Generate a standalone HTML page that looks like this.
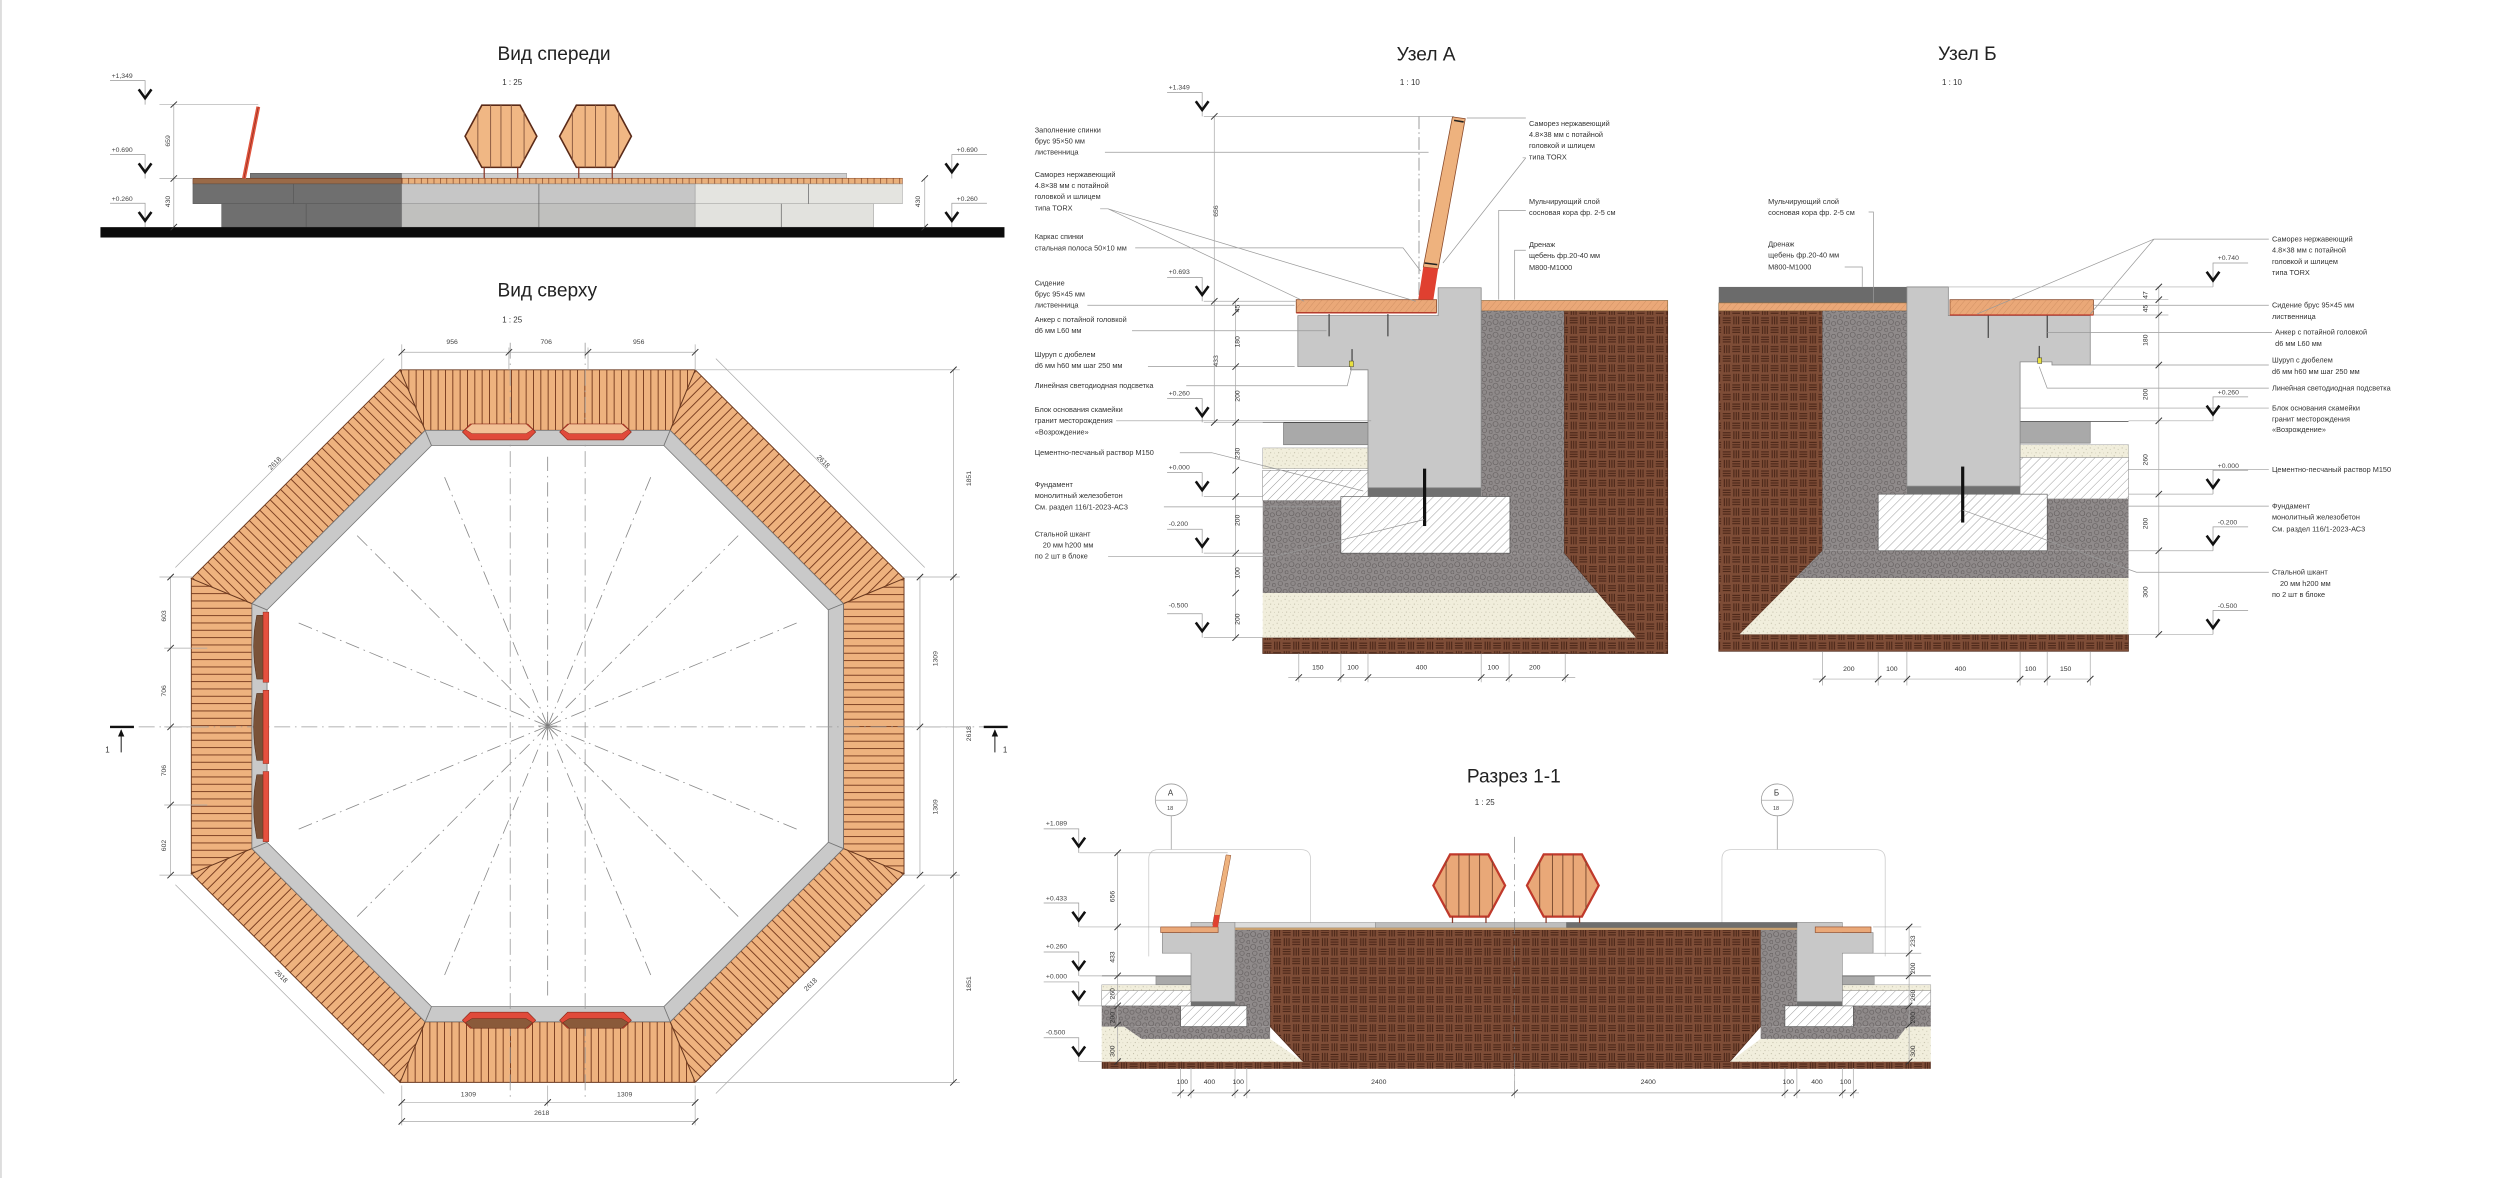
<!DOCTYPE html>
<html><head><meta charset="utf-8"><style>
html,body{margin:0;padding:0;background:#fff;}
svg{display:block;}
text{font-family:"Liberation Sans","DejaVu Sans",sans-serif;fill:#333;}
.t{font-size:12px;fill:#222;}
.s{font-size:5px;fill:#333;}
.l{font-size:4.6px;fill:#333;}
.d{font-size:4.3px;fill:#444;}
.ld{stroke:#999;stroke-width:0.45;fill:none;}
.dm{stroke:#aaa;stroke-width:0.45;fill:none;}
.tk{stroke:#333;stroke-width:0.6;}
</style></head><body>
<svg xmlns="http://www.w3.org/2000/svg" width="2500" height="1178" viewBox="0 0 1568 739" preserveAspectRatio="none">
<defs>
<pattern id="soil" width="12" height="12" patternUnits="userSpaceOnUse">
<rect width="12" height="12" fill="#7e4d37"/>
<g stroke="#4a2618" stroke-width="0.7">
<line x1="1.5" y1="0.5" x2="1.5" y2="5.5"/><line x1="3" y1="0.5" x2="3" y2="5.5"/><line x1="4.5" y1="0.5" x2="4.5" y2="5.5"/>
<line x1="6.5" y1="1.5" x2="11.5" y2="1.5"/><line x1="6.5" y1="3" x2="11.5" y2="3"/><line x1="6.5" y1="4.5" x2="11.5" y2="4.5"/>
<line x1="0.5" y1="7.5" x2="5.5" y2="7.5"/><line x1="0.5" y1="9" x2="5.5" y2="9"/><line x1="0.5" y1="10.5" x2="5.5" y2="10.5"/>
<line x1="7.5" y1="6.5" x2="7.5" y2="11.5"/><line x1="9" y1="6.5" x2="9" y2="11.5"/><line x1="10.5" y1="6.5" x2="10.5" y2="11.5"/>
</g></pattern>
<pattern id="grav" width="8" height="8" patternUnits="userSpaceOnUse">
<rect width="8" height="8" fill="#8f8a8a"/>
<g fill="none" stroke="#5c5757" stroke-width="0.35">
<circle cx="2" cy="2" r="1.6"/><circle cx="6" cy="3" r="1.3"/><circle cx="3" cy="6" r="1.4"/><circle cx="7" cy="7" r="1"/></g></pattern>
<pattern id="sand" width="5" height="5" patternUnits="userSpaceOnUse">
<rect width="5" height="5" fill="#f1eedc"/>
<g fill="#a8a48c"><circle cx="1" cy="1" r="0.3"/><circle cx="3.5" cy="2" r="0.25"/><circle cx="2" cy="4" r="0.3"/><circle cx="4.3" cy="4.2" r="0.2"/></g></pattern>
<pattern id="hatch" width="4" height="4" patternUnits="userSpaceOnUse" patternTransform="rotate(45)">
<rect width="4" height="4" fill="#fff"/><line x1="0" y1="0" x2="0" y2="4" stroke="#666" stroke-width="0.4"/></pattern>
<pattern id="plank" width="4.6" height="10" patternUnits="userSpaceOnUse">
<rect width="4.6" height="10" fill="#eeb27e"/><line x1="0.3" y1="0" x2="0.3" y2="10" stroke="#7a3d20" stroke-width="0.6"/></pattern>
<pattern id="wh" width="3" height="3" patternUnits="userSpaceOnUse" patternTransform="rotate(40)">
<rect width="3" height="3" fill="#eaa878"/><line x1="0" y1="0" x2="0" y2="3" stroke="#b97a50" stroke-width="0.3"/></pattern>
<pattern id="ftick" width="4" height="4" patternUnits="userSpaceOnUse">
<rect width="4" height="4" fill="#e9b07c"/><line x1="0.2" y1="0" x2="0.2" y2="4" stroke="#7a3d20" stroke-width="0.4"/></pattern>
<g id="lv"><path d="M-22,-15 H0 V0" fill="none" stroke="#999" stroke-width="0.45"/><path d="M-4,-9.5 L0,-4 L4,-9.5" fill="none" stroke="#111" stroke-width="1.6"/></g>
<g id="lvr"><path d="M22,-15 H0 V0" fill="none" stroke="#999" stroke-width="0.45"/><path d="M-4,-9.5 L0,-4 L4,-9.5" fill="none" stroke="#111" stroke-width="1.6"/></g>
<g id="hexp"><polygon points="10.5,0 34.5,0 45,19.5 34.5,39 10.5,39 0,19.5" fill="#f0b784" stroke="#5a2a18" stroke-width="1"/><g stroke="#8a5a40" stroke-width="0.6"><line x1="8" y1="4" x2="8" y2="35"/><line x1="16" y1="0" x2="16" y2="39"/><line x1="22.5" y1="0" x2="22.5" y2="39"/><line x1="29" y1="0" x2="29" y2="39"/><line x1="37" y1="4" x2="37" y2="35"/></g><line x1="12" y1="39" x2="12" y2="46" stroke="#8a3a2a" stroke-width="0.8"/><line x1="33" y1="39" x2="33" y2="46" stroke="#8a3a2a" stroke-width="0.8"/></g>
<g id="hexr"><polygon points="10.5,0 34.5,0 45,19.5 34.5,39 10.5,39 0,19.5" fill="#e9a878" stroke="#c0392b" stroke-width="1.4"/><g stroke="#7a4a30" stroke-width="0.6"><line x1="8" y1="4" x2="8" y2="35"/><line x1="16" y1="0" x2="16" y2="39"/><line x1="22.5" y1="0" x2="22.5" y2="39"/><line x1="29" y1="0" x2="29" y2="39"/><line x1="37" y1="4" x2="37" y2="35"/></g><line x1="12" y1="39" x2="12" y2="43" stroke="#8a3a2a" stroke-width="0.8"/><line x1="33" y1="39" x2="33" y2="43" stroke="#8a3a2a" stroke-width="0.8"/></g>
<g id="seg">
<polygon points="-92.6,-223.5 92.6,-223.5 76.8,-185.5 -76.8,-185.5" fill="url(#plank)" stroke="#6b3a20" stroke-width="0.6"/>
<polygon points="-76.8,-185.5 76.8,-185.5 72.9,-176 -72.9,-176" fill="#c9c9c9" stroke="#777" stroke-width="0.5"/>
</g>
</defs>
<rect width="1568" height="739" fill="#fff"/>
<line x1="0.6" y1="0" x2="0.6" y2="739" stroke="#ddd" stroke-width="1.2"/>

<!-- ============ FRONT VIEW ============ -->
<text class="t" x="312" y="37.6">Вид спереди</text>
<text class="s" x="315" y="53.3">1 : 25</text>
<rect x="157" y="108.7" width="95" height="3.3" fill="#777" stroke="#555" stroke-width="0.3"/>
<rect x="252" y="108.7" width="279" height="3.3" fill="#cfcfcf" stroke="#888" stroke-width="0.3"/>
<rect x="121" y="111.8" width="131" height="3.6" fill="#9a6a48" stroke="#5a2a18" stroke-width="0.3"/>
<rect x="252" y="111.8" width="314" height="3.6" fill="url(#ftick)" stroke="#7a3d20" stroke-width="0.3"/>
<rect x="121" y="115.4" width="131" height="12.4" fill="#6f6f6f" stroke="#555" stroke-width="0.3"/>
<rect x="252" y="115.4" width="184" height="12.4" fill="#c6c6c6" stroke="#888" stroke-width="0.3"/>
<rect x="436" y="115.4" width="130" height="12.4" fill="#e4e4e0" stroke="#999" stroke-width="0.3"/>
<rect x="139" y="127.8" width="113" height="14.7" fill="#6f6f6f" stroke="#555" stroke-width="0.3"/>
<rect x="252" y="127.8" width="184" height="14.7" fill="#c0c0be" stroke="#888" stroke-width="0.3"/>
<rect x="436" y="127.8" width="112" height="14.7" fill="#e2e2de" stroke="#999" stroke-width="0.3"/>
<g stroke="#555" stroke-width="0.4"><line x1="184" y1="115.4" x2="184" y2="127.8"/><line x1="338" y1="115.4" x2="338" y2="142.5"/><line x1="507" y1="115.4" x2="507" y2="127.8"/><line x1="192" y1="127.8" x2="192" y2="142.5"/><line x1="490" y1="127.8" x2="490" y2="142.5"/></g>
<rect x="63" y="142.5" width="567" height="6.5" fill="#0b0b0b"/>
<line x1="162" y1="67" x2="153" y2="112" stroke="#e0553f" stroke-width="2.4"/>
<line x1="162" y1="67" x2="153" y2="112" stroke="#8a2a1a" stroke-width="0.4"/>
<use href="#hexp" x="291.7" y="66"/>
<use href="#hexp" x="351" y="66"/>
<use href="#lv" x="91" y="65.6"/><text class="d" x="70" y="49">+1,349</text>
<use href="#lv" x="91" y="112"/><text class="d" x="70" y="95.5">+0.690</text>
<use href="#lv" x="91" y="142.5"/><text class="d" x="70" y="126">+0.260</text>
<use href="#lvr" x="597" y="112"/><text class="d" x="600" y="95.5">+0.690</text>
<use href="#lvr" x="597" y="142.5"/><text class="d" x="600" y="126">+0.260</text>
<path class="dm" d="M109,65.6 V142.5 M100,65.6 H162 M100,112 H121"/>
<g class="tk"><line x1="107" y1="67.5" x2="111" y2="63.7"/><line x1="107" y1="114" x2="111" y2="110"/><line x1="107" y1="144.5" x2="111" y2="140.5"/></g>
<text class="d" transform="translate(106.5,92) rotate(-90)">659</text>
<text class="d" transform="translate(106.5,130) rotate(-90)">430</text>
<path class="dm" d="M580,112 V142.5"/>
<g class="tk"><line x1="578" y1="114" x2="582" y2="110"/><line x1="578" y1="144.5" x2="582" y2="140.5"/></g>
<text class="d" transform="translate(577,130) rotate(-90)">430</text>

<!-- ============ TOP VIEW ============ -->
<text class="t" x="312" y="186">Вид сверху</text>
<text class="s" x="315" y="202.4">1 : 25</text>
<g transform="translate(343.5,455.5)">
<use href="#seg"/>
<use href="#seg" transform="rotate(45)"/>
<use href="#seg" transform="rotate(90)"/>
<use href="#seg" transform="rotate(135)"/>
<use href="#seg" transform="rotate(180)"/>
<use href="#seg" transform="rotate(225)"/>
<use href="#seg" transform="rotate(270)"/>
<use href="#seg" transform="rotate(315)"/>
<g stroke="#888" stroke-width="0.5" stroke-dasharray="9 3 1 3">
<line x1="0" y1="0" x2="0" y2="-170"/><line x1="0" y1="0" x2="0" y2="170"/>
<line x1="0" y1="0" x2="65" y2="-157"/><line x1="0" y1="0" x2="-65" y2="-157"/>
<line x1="0" y1="0" x2="65" y2="157"/><line x1="0" y1="0" x2="-65" y2="157"/>
<line x1="0" y1="0" x2="157" y2="-65"/><line x1="0" y1="0" x2="-157" y2="-65"/>
<line x1="0" y1="0" x2="157" y2="65"/><line x1="0" y1="0" x2="-157" y2="65"/>
<line x1="0" y1="0" x2="120" y2="-120"/><line x1="0" y1="0" x2="-120" y2="-120"/>
<line x1="0" y1="0" x2="120" y2="120"/><line x1="0" y1="0" x2="-120" y2="120"/>
</g>
<g stroke="#777" stroke-width="0.4"><line x1="-6" y1="0" x2="6" y2="0"/><line x1="0" y1="-6" x2="0" y2="6"/><line x1="-4" y1="-4" x2="4" y2="4"/><line x1="-4" y1="4" x2="4" y2="-4"/></g>
</g>
<g stroke="#999" stroke-width="0.5" stroke-dasharray="10 3 1 3">
<line x1="320" y1="215" x2="320" y2="690"/><line x1="367" y1="215" x2="367" y2="690"/>
<line x1="70" y1="456" x2="620" y2="456"/>
</g>
<g>
<polygon points="295,266 331,266 336,271 331,276 295,276 290,271" fill="#e04a3a" stroke="#8a2a1a" stroke-width="0.4"/>
<polygon points="296,266 330,266 334,269.5 330,272 296,272 292,269.5" fill="#f2c196" stroke="#8a2a1a" stroke-width="0.3"/>
<polygon points="356,266 391,266 396,271 391,276 356,276 351,271" fill="#e04a3a" stroke="#8a2a1a" stroke-width="0.4"/>
<polygon points="357,266 390,266 394,269.5 390,272 357,272 353,269.5" fill="#f2c196" stroke="#8a2a1a" stroke-width="0.3"/>
<polygon points="295,635 331,635 336,640 331,645 295,645 290,640" fill="#e04a3a" stroke="#8a2a1a" stroke-width="0.4"/>
<polygon points="296,639 330,639 334,641.5 330,645 296,645 292,641.5" fill="#8a5a3a" stroke="#5a2a18" stroke-width="0.3"/>
<polygon points="356,635 391,635 396,640 391,645 356,645 351,640" fill="#e04a3a" stroke="#8a2a1a" stroke-width="0.4"/>
<polygon points="357,639 390,639 394,641.5 390,645 357,645 353,641.5" fill="#8a5a3a" stroke="#5a2a18" stroke-width="0.3"/>
<g fill="#7a5238" stroke="#4a2a18" stroke-width="0.3">
<path d="M161,386 Q157,405 161,426 L165,426 L165,386 Z"/><path d="M161,435 Q157,456 161,477 L165,477 L165,435 Z"/><path d="M161,486 Q157,506 161,526 L165,526 L165,486 Z"/></g>
<g fill="#e5503e" stroke="#8a2a1a" stroke-width="0.3"><rect x="165" y="384" width="3.6" height="44"/><rect x="165" y="433" width="3.6" height="46"/><rect x="165" y="484" width="3.6" height="44"/></g>
</g>
<path class="dm" d="M252,221 H436 M252,216 V232 M319.2,218 V232 M368.8,218 V232 M436,216 V232"/>
<g class="tk"><line x1="250" y1="223" x2="254" y2="219"/><line x1="317.2" y1="223" x2="321.2" y2="219"/><line x1="366.8" y1="223" x2="370.8" y2="219"/><line x1="434" y1="223" x2="438" y2="219"/></g>
<text class="d" x="280" y="215.8">956</text><text class="d" x="339" y="215.8">706</text><text class="d" x="397" y="215.8">956</text>
<path class="dm" d="M241,225 L110,356 M449,225 L580,356 M110,555 L241,686 M580,555 L449,686"/>
<text class="d" transform="translate(170,295) rotate(-45)">2618</text>
<text class="d" transform="translate(512,287) rotate(45)">2618</text>
<text class="d" transform="translate(172,610) rotate(45)">2618</text>
<text class="d" transform="translate(506,622) rotate(-45)">2618</text>
<path class="dm" d="M107,362 V549 M100,362 H121 M100,549 H121 M103,406.6 H130 M103,456 H130 M103,505 H130"/>
<g class="tk"><line x1="105" y1="364" x2="109" y2="360"/><line x1="105" y1="408.6" x2="109" y2="404.6"/><line x1="105" y1="458" x2="109" y2="454"/><line x1="105" y1="507" x2="109" y2="503"/><line x1="105" y1="551" x2="109" y2="547"/></g>
<text class="d" transform="translate(104,390) rotate(-90)">603</text>
<text class="d" transform="translate(104,437) rotate(-90)">706</text>
<text class="d" transform="translate(104,487) rotate(-90)">706</text>
<text class="d" transform="translate(104,534) rotate(-90)">602</text>
<path class="dm" d="M577,362 V549 M566,362 H602 M566,549 H602 M436,232 H602 M436,679 H602 M598,232 V679 M572,456 H602"/>
<g class="tk"><line x1="575" y1="364" x2="579" y2="360"/><line x1="575" y1="458" x2="579" y2="454"/><line x1="575" y1="551" x2="579" y2="547"/><line x1="596" y1="234" x2="600" y2="230"/><line x1="596" y1="364" x2="600" y2="360"/><line x1="596" y1="551" x2="600" y2="547"/><line x1="596" y1="681" x2="600" y2="677"/></g>
<text class="d" transform="translate(588,418) rotate(-90)">1309</text>
<text class="d" transform="translate(588,511) rotate(-90)">1309</text>
<text class="d" transform="translate(609,305) rotate(-90)">1851</text>
<text class="d" transform="translate(609,465) rotate(-90)">2618</text>
<text class="d" transform="translate(609,622) rotate(-90)">1851</text>
<path class="dm" d="M252,691.6 H436 M252,703.5 H436 M252,681 V706 M436,681 V706 M343.5,681 V694"/>
<g class="tk"><line x1="250" y1="693.6" x2="254" y2="689.6"/><line x1="341.5" y1="693.6" x2="345.5" y2="689.6"/><line x1="434" y1="693.6" x2="438" y2="689.6"/><line x1="250" y1="705.5" x2="254" y2="701.5"/><line x1="434" y1="705.5" x2="438" y2="701.5"/></g>
<text class="d" x="289" y="688">1309</text><text class="d" x="387" y="688">1309</text><text class="d" x="335" y="699.5">2618</text>
<line x1="69" y1="456" x2="84" y2="456" stroke="#111" stroke-width="1.5"/><line x1="76" y1="458" x2="76" y2="472" stroke="#111" stroke-width="0.6"/><path d="M74,462 L76,457.5 L78,462" fill="#111"/><text class="s" x="66" y="472">1</text>
<line x1="617" y1="456" x2="632" y2="456" stroke="#111" stroke-width="1.5"/><line x1="624" y1="458" x2="624" y2="472" stroke="#111" stroke-width="0.6"/><path d="M622,462 L624,457.5 L626,462" fill="#111"/><text class="s" x="629" y="472">1</text>

<!-- ============ УЗЕЛ А ============ -->
<text class="t" x="876" y="38">Узел А</text>
<text class="s" x="878" y="53.3">1 : 10</text>
<polygon points="981,195 1046,195 1046,410 792,410 792,400 1026,400 981,347" fill="url(#soil)" stroke="#4a2618" stroke-width="0.4"/>
<rect x="929" y="188.5" width="117" height="6.5" fill="url(#wh)" stroke="#8a6a40" stroke-width="0.4"/>
<rect x="929" y="195" width="52" height="152" fill="url(#grav)"/>
<polygon points="792,347 981,347 1002,372 792,372" fill="url(#grav)"/>
<polygon points="792,372 1002,372 1026,400 792,400" fill="url(#sand)"/>
<rect x="792" y="295" width="66" height="19" fill="url(#hatch)" stroke="#777" stroke-width="0.3"/>
<rect x="792" y="314" width="49" height="33" fill="url(#grav)"/>
<rect x="841" y="311.5" width="106" height="35.5" fill="url(#hatch)" stroke="#555" stroke-width="0.4"/>
<rect x="858" y="306" width="71" height="5.5" fill="#707070"/>
<rect x="792" y="281" width="66" height="13" fill="url(#sand)" stroke="#999" stroke-width="0.3"/>
<rect x="805" y="265" width="53" height="14" fill="#a9a9a9" stroke="#777" stroke-width="0.4"/>
<line x1="792" y1="265" x2="858" y2="265" stroke="#444" stroke-width="0.5"/>
<polygon points="814,198 902,198 902,180.5 929,180.5 929,306 858,306 858,232 847,232 847,230 814,230" fill="#c8c8c8" stroke="#888" stroke-width="0.5"/>
<rect x="813" y="188" width="88" height="8" fill="url(#wh)" stroke="#8a4a2a" stroke-width="0.5"/>
<line x1="813" y1="196.3" x2="901" y2="196.3" stroke="#c0392b" stroke-width="0.8"/>
<polygon points="911,73.3 919,74.5 902,168.5 892.7,167.5" fill="#eeb27e" stroke="#8a4a2a" stroke-width="0.5"/>
<polygon points="892.7,167.5 902,168.5 899,188 889.5,188" fill="#e04030"/>
<line x1="912" y1="75.5" x2="918" y2="76.5" stroke="#222" stroke-width="1"/>
<line x1="893.5" y1="165" x2="901.5" y2="166" stroke="#222" stroke-width="1"/>
<g stroke="#222" stroke-width="0.6"><line x1="833.6" y1="197" x2="833.6" y2="211"/><line x1="870.5" y1="197" x2="870.5" y2="211"/><line x1="848" y1="219" x2="848" y2="228"/></g>
<rect x="846.3" y="226.5" width="2.6" height="3.5" fill="#e8e040" stroke="#333" stroke-width="0.3"/>
<line x1="893.5" y1="294" x2="893.5" y2="330" stroke="#111" stroke-width="2"/>
<line x1="890" y1="73" x2="890" y2="190" stroke="#666" stroke-width="0.4" stroke-dasharray="8 2 1 2"/>
<g class="l">
<text x="649" y="83">Заполнение спинки</text><text x="649" y="90">брус 95×50 мм</text><text x="649" y="97">лиственница</text>
<text x="649" y="111">Саморез нержавеющий</text><text x="649" y="118">4.8×38 мм с потайной</text><text x="649" y="125">головкой и шлицем</text><text x="649" y="132">типа TORX</text>
<text x="649" y="150">Каркас спинки</text><text x="649" y="157">стальная полоса 50×10 мм</text>
<text x="649" y="179">Сидение</text><text x="649" y="186">брус 95×45 мм</text><text x="649" y="193">лиственница</text>
<text x="649" y="202">Анкер с потайной головкой</text><text x="649" y="209">d6 мм L60 мм</text>
<text x="649" y="224">Шуруп с дюбелем</text><text x="649" y="231">d6 мм h60 мм шаг 250 мм</text>
<text x="649" y="243.5">Линейная светодиодная подсветка</text>
<text x="649" y="258.5">Блок основания скамейки</text><text x="649" y="265.5">гранит месторождения</text><text x="649" y="272.5">«Возрождение»</text>
<text x="649" y="285.5">Цементно-песчаный раствор М150</text>
<text x="649" y="305.5">Фундамент</text><text x="649" y="312.5">монолитный железобетон</text><text x="649" y="319.5">См. раздел 116/1-2023-АС3</text>
<text x="649" y="336.5">Стальной шкант</text><text x="654" y="343.5">20 мм h200 мм</text><text x="649" y="350.5">по 2 шт в блоке</text>
</g>
<g class="ld">
<path d="M693,95.5 H896"/><path d="M690,131 H695 L818,189 M695,131 L888,189"/>
<path d="M712,155.5 H880 L891,170"/><path d="M682,191.5 H812"/><path d="M710,207.5 H832"/>
<path d="M720,230 H812"/><path d="M744,242 H845 L848,230"/><path d="M700,264 H860"/>
<path d="M740,284 H760 L855,308"/><path d="M730,318 H840"/><path d="M695,349 H800 L893,326"/>
<path d="M920,74 H957"/><path d="M957,99 L905,165 M957,99 L955,99"/>
<path d="M957,132 H940 V188"/><path d="M957,157 H950 V188"/>
</g>
<g class="l">
<text x="959" y="79">Саморез нержавеющий</text><text x="959" y="86">4.8×38 мм с потайной</text><text x="959" y="93">головкой и шлицем</text><text x="959" y="100">типа TORX</text>
<text x="959" y="128">Мульчирующий слой</text><text x="959" y="135">сосновая кора фр. 2-5 см</text>
<text x="959" y="155">Дренаж</text><text x="959" y="162">щебень фр.20-40 мм</text><text x="959" y="169.5">М800-М1000</text>
</g>
<use href="#lv" x="754" y="73"/><text class="d" x="733" y="56">+1.349</text>
<use href="#lv" x="754" y="189"/><text class="d" x="733" y="172">+0.693</text>
<use href="#lv" x="754" y="265"/><text class="d" x="733" y="248">+0.260</text>
<use href="#lv" x="754" y="311.5"/><text class="d" x="733" y="294.5">+0.000</text>
<use href="#lv" x="754" y="347"/><text class="d" x="733" y="330">-0.200</text>
<use href="#lv" x="754" y="400"/><text class="d" x="733" y="381">-0.500</text>
<path class="dm" d="M755,73 H912 M761.6,73 V265 M775,189 V400 M755,189 H813 M755,265 H805 M755,311.5 H792 M755,347 H792 M755,400 H792"/>
<g class="tk"><line x1="759.6" y1="75" x2="763.6" y2="71"/><line x1="759.6" y1="191" x2="763.6" y2="187"/><line x1="759.6" y1="267" x2="763.6" y2="263"/>
<line x1="773" y1="191" x2="777" y2="187"/><line x1="773" y1="198" x2="777" y2="194"/><line x1="773" y1="232" x2="777" y2="228"/><line x1="773" y1="267" x2="777" y2="263"/><line x1="773" y1="297" x2="777" y2="293"/><line x1="773" y1="313.5" x2="777" y2="309.5"/><line x1="773" y1="349" x2="777" y2="345"/><line x1="773" y1="374" x2="777" y2="370"/><line x1="773" y1="402" x2="777" y2="398"/></g>
<text class="d" transform="translate(764,136) rotate(-90)">656</text>
<text class="d" transform="translate(764,230) rotate(-90)">433</text>
<g class="d"><text transform="translate(777.5,196) rotate(-90)">45</text><text transform="translate(777.5,218) rotate(-90)">180</text><text transform="translate(777.5,252) rotate(-90)">200</text><text transform="translate(777.5,288) rotate(-90)">230</text><text transform="translate(777.5,330) rotate(-90)">200</text><text transform="translate(777.5,363) rotate(-90)">100</text><text transform="translate(777.5,392) rotate(-90)">200</text></g>
<path class="dm" d="M808,425 H988 M814.6,410 V428 M841,410 V428 M858,410 V428 M929,410 V428 M946.5,410 V428 M981.7,410 V428"/>
<g class="tk"><line x1="812.6" y1="427" x2="816.6" y2="423"/><line x1="839" y1="427" x2="843" y2="423"/><line x1="856" y1="427" x2="860" y2="423"/><line x1="927" y1="427" x2="931" y2="423"/><line x1="944.5" y1="427" x2="948.5" y2="423"/><line x1="979.7" y1="427" x2="983.7" y2="423"/></g>
<g class="d"><text x="823" y="420">150</text><text x="845" y="420">100</text><text x="888" y="420">400</text><text x="933" y="420">100</text><text x="959" y="420">200</text></g>

<!-- ============ УЗЕЛ Б ============ -->
<text class="t" x="1215.5" y="37.6">Узел Б</text>
<text class="s" x="1218" y="53.3">1 : 10</text>
<polygon points="1078,195 1143,195 1143,345.5 1091,398 1335,398 1335,408.6 1078,408.6" fill="url(#soil)" stroke="#4a2618" stroke-width="0.4"/>
<rect x="1078" y="180" width="118" height="10" fill="#6b6b6b"/>
<rect x="1078" y="190" width="118" height="5" fill="url(#wh)" stroke="#8a6a40" stroke-width="0.4"/>
<rect x="1143" y="195" width="53" height="150.5" fill="url(#grav)"/>
<polygon points="1143,345.5 1335,345.5 1335,362.6 1126,362.6" fill="url(#grav)"/>
<polygon points="1126,362.6 1335,362.6 1335,398 1091,398" fill="url(#sand)"/>
<rect x="1267" y="287" width="68" height="26" fill="url(#hatch)" stroke="#777" stroke-width="0.3"/>
<rect x="1284" y="313" width="51" height="32.5" fill="url(#grav)"/>
<rect x="1178" y="310" width="106" height="35.5" fill="url(#hatch)" stroke="#555" stroke-width="0.4"/>
<rect x="1196" y="305" width="71" height="5" fill="#707070"/>
<rect x="1267" y="279" width="68" height="8" fill="url(#sand)" stroke="#999" stroke-width="0.3"/>
<rect x="1267" y="264.5" width="44" height="13.5" fill="#a9a9a9" stroke="#777" stroke-width="0.4"/>
<line x1="1267" y1="264.5" x2="1335" y2="264.5" stroke="#444" stroke-width="0.5"/>
<polygon points="1196,180 1222,180 1222,198 1311,198 1311,229 1287,229 1287,227 1267,227 1267,305 1196,305" fill="#c8c8c8" stroke="#888" stroke-width="0.5"/>
<rect x="1223" y="188" width="90" height="9.6" fill="url(#wh)" stroke="#8a4a2a" stroke-width="0.5"/>
<line x1="1223" y1="197.6" x2="1313" y2="197.6" stroke="#c0392b" stroke-width="0.8"/>
<g stroke="#222" stroke-width="0.6"><line x1="1247" y1="198" x2="1247" y2="212"/><line x1="1284" y1="198" x2="1284" y2="212"/><line x1="1279" y1="217" x2="1279" y2="226"/></g>
<rect x="1278" y="224.5" width="2.6" height="3.5" fill="#e8e040" stroke="#333" stroke-width="0.3"/>
<line x1="1231" y1="292.7" x2="1231" y2="327.8" stroke="#111" stroke-width="2"/>
<g class="l">
<text x="1109" y="128">Мульчирующий слой</text><text x="1109" y="135">сосновая кора фр. 2-5 см</text>
<text x="1109" y="154.5">Дренаж</text><text x="1109" y="161.5">щебень фр.20-40 мм</text><text x="1109" y="169">М800-М1000</text>
<text x="1425" y="151.5">Саморез нержавеющий</text><text x="1425" y="158.5">4.8×38 мм с потайной</text><text x="1425" y="165.5">головкой и шлицем</text><text x="1425" y="172.5">типа TORX</text>
<text x="1425" y="193">Сидение брус 95×45 мм</text><text x="1425" y="200">лиственница</text>
<text x="1427" y="210">Анкер с потайной головкой</text><text x="1427" y="217">d6 мм L60 мм</text>
<text x="1425" y="227.5">Шуруп с дюбелем</text><text x="1425" y="234.5">d6 мм h60 мм шаг 250 мм</text>
<text x="1425" y="245">Линейная светодиодная подсветка</text>
<text x="1425" y="257.5">Блок основания скамейки</text><text x="1425" y="264.5">гранит месторождения</text><text x="1425" y="271">«Возрождение»</text>
<text x="1425" y="296">Цементно-песчаный раствор М150</text>
<text x="1425" y="319">Фундамент</text><text x="1425" y="326">монолитный железобетон</text><text x="1425" y="333.5">См. раздел 116/1-2023-АС3</text>
<text x="1425" y="360.5">Стальной шкант</text><text x="1430" y="367.5">20 мм h200 мм</text><text x="1425" y="374.5">по 2 шт в блоке</text>
</g>
<g class="ld">
<path d="M1172,133 H1175 V190"/><path d="M1157,167.5 H1168 V180"/>
<path d="M1423,150 H1351 L1240,197 M1351,150 L1311,197"/>
<path d="M1423,191.5 H1313"/><path d="M1425,208.5 H1284"/><path d="M1423,229 H1311"/>
<path d="M1423,243.5 H1284 L1279,230"/><path d="M1423,256 H1267"/><path d="M1423,294.5 H1335"/>
<path d="M1423,317.5 H1335"/><path d="M1423,359 H1340 L1231,320"/>
</g>
<use href="#lvr" x="1388" y="180"/><text class="d" x="1391" y="163">+0.740</text>
<use href="#lvr" x="1388" y="264"/><text class="d" x="1391" y="247.5">+0.260</text>
<use href="#lvr" x="1388" y="310"/><text class="d" x="1391" y="293.5">+0.000</text>
<use href="#lvr" x="1388" y="345.5"/><text class="d" x="1391" y="329">-0.200</text>
<use href="#lvr" x="1388" y="398"/><text class="d" x="1391" y="381.5">-0.500</text>
<path class="dm" d="M1354,180 V398 M1222,180 H1388 M1313,188 H1360 M1313,197.6 H1360 M1311,229 H1360 M1335,264 H1388 M1335,310 H1388 M1335,345.5 H1388 M1335,398 H1388"/>
<g class="tk"><line x1="1352" y1="182" x2="1356" y2="178"/><line x1="1352" y1="190" x2="1356" y2="186"/><line x1="1352" y1="199.6" x2="1356" y2="195.6"/><line x1="1352" y1="231" x2="1356" y2="227"/><line x1="1352" y1="266" x2="1356" y2="262"/><line x1="1352" y1="312" x2="1356" y2="308"/><line x1="1352" y1="347.5" x2="1356" y2="343.5"/><line x1="1352" y1="400" x2="1356" y2="396"/></g>
<g class="d"><text transform="translate(1347,187.5) rotate(-90)">47</text><text transform="translate(1347,196) rotate(-90)">45</text><text transform="translate(1347,217) rotate(-90)">180</text><text transform="translate(1347,251) rotate(-90)">200</text><text transform="translate(1347,292) rotate(-90)">260</text><text transform="translate(1347,332) rotate(-90)">200</text><text transform="translate(1347,375) rotate(-90)">300</text></g>
<path class="dm" d="M1137,426 H1310 M1143,408.6 V430 M1178,408.6 V430 M1196,408.6 V430 M1267,408.6 V430 M1284,408.6 V430 M1311,408.6 V430"/>
<g class="tk"><line x1="1141" y1="428" x2="1145" y2="424"/><line x1="1176" y1="428" x2="1180" y2="424"/><line x1="1194" y1="428" x2="1198" y2="424"/><line x1="1265" y1="428" x2="1269" y2="424"/><line x1="1282" y1="428" x2="1286" y2="424"/><line x1="1309" y1="428" x2="1313" y2="424"/></g>
<g class="d"><text x="1156" y="421">200</text><text x="1183" y="421">100</text><text x="1226" y="421">400</text><text x="1270" y="421">100</text><text x="1292" y="421">150</text></g>

<!-- ============ РАЗРЕЗ 1-1 ============ -->
<text class="t" x="920" y="491">Разрез 1-1</text>
<text class="s" x="925" y="505">1 : 25</text>
<g fill="#fff" stroke="#999" stroke-width="0.5">
<circle cx="734.6" cy="501.8" r="10"/><circle cx="1114.7" cy="501.8" r="10"/></g>
<line x1="725" y1="502" x2="744" y2="502" stroke="#999" stroke-width="0.4"/><line x1="1105" y1="502" x2="1124" y2="502" stroke="#999" stroke-width="0.4"/>
<text class="s" x="732.5" y="499">А</text><text class="d" x="732" y="508" style="font-size:3.5px">18</text>
<text class="s" x="1112.6" y="499">Б</text><text class="d" x="1112" y="508" style="font-size:3.5px">18</text>
<path class="ld" d="M734.6,512 V533 M1114.7,512 V533"/>
<path d="M720.5,600 V539 Q720.5,533 726.5,533 H816 Q822,533 822,539 V600" fill="none" stroke="#ccc" stroke-width="0.5"/>
<path d="M1080,600 V539 Q1080,533 1086,533 H1176.4 Q1182.4,533 1182.4,539 V600" fill="none" stroke="#ccc" stroke-width="0.5"/>
<rect x="691" y="666" width="520" height="4.5" fill="url(#soil)"/>
<polygon points="796.6,583.3 1104.3,583.3 1104.3,644 1085,666 817.3,666 796.6,644" fill="url(#soil)" stroke="#4a2618" stroke-width="0.4"/>
<rect x="774.6" y="583" width="22" height="61" fill="url(#grav)"/>
<rect x="1104.3" y="583" width="22.7" height="61" fill="url(#grav)"/>
<polygon points="691,644 705,644 716,651.7 796.6,651.7 817.3,666 691,666" fill="url(#sand)"/>
<polygon points="705,644 796.6,644 796.6,651.7 716,651.7" fill="url(#grav)"/>
<rect x="691" y="631" width="49.5" height="13" fill="url(#grav)"/>
<rect x="740.5" y="631" width="41.5" height="13" fill="url(#hatch)" stroke="#555" stroke-width="0.4"/>
<rect x="691" y="621.4" width="56" height="9.6" fill="url(#hatch)" stroke="#777" stroke-width="0.3"/>
<rect x="691" y="617.8" width="56" height="3.6" fill="url(#sand)" stroke="#999" stroke-width="0.3"/>
<rect x="725" y="612.2" width="22" height="5.6" fill="#a9a9a9" stroke="#777" stroke-width="0.3"/>
<line x1="691" y1="612.2" x2="747" y2="612.2" stroke="#555" stroke-width="0.4"/>
<rect x="747" y="628.3" width="27.6" height="2.7" fill="#707070"/>
<polygon points="729,585 747,585 747,578.7 774.6,578.7 774.6,628.3 747,628.3 747,598 729,598" fill="#c8c8c8" stroke="#888" stroke-width="0.4"/>
<rect x="728" y="581.5" width="36" height="3.5" fill="#eaa878" stroke="#8a4a2a" stroke-width="0.4"/>
<polygon points="769,536.3 772,536.6 764,580 760.5,580" fill="#eeb27e" stroke="#8a4a2a" stroke-width="0.3"/>
<polygon points="761.6,574 764.8,574 764,581.5 760.5,581.5" fill="#e04030"/>
<polygon points="1104.3,651.7 1190,651.7 1196,644 1211,644 1211,666 1085,666" fill="url(#sand)"/>
<polygon points="1104.3,644 1196,644 1190,651.7 1104.3,651.7" fill="url(#grav)"/>
<rect x="1162.4" y="631" width="48.6" height="13" fill="url(#grav)"/>
<rect x="1119.5" y="631" width="42.9" height="13" fill="url(#hatch)" stroke="#555" stroke-width="0.4"/>
<rect x="1155.5" y="621.4" width="55.5" height="9.6" fill="url(#hatch)" stroke="#777" stroke-width="0.3"/>
<rect x="1155.5" y="617.8" width="55.5" height="3.6" fill="url(#sand)" stroke="#999" stroke-width="0.3"/>
<rect x="1155.5" y="612.2" width="20" height="5.6" fill="#a9a9a9" stroke="#777" stroke-width="0.3"/>
<line x1="1155.5" y1="612.2" x2="1211" y2="612.2" stroke="#555" stroke-width="0.4"/>
<rect x="1127" y="628.3" width="28.5" height="2.7" fill="#707070"/>
<polygon points="1127,578.7 1155.5,578.7 1155.5,585 1174.8,585 1174.8,598 1155.5,598 1155.5,628.3 1127,628.3" fill="#c8c8c8" stroke="#888" stroke-width="0.4"/>
<rect x="1138.5" y="581.5" width="35" height="3.5" fill="#eaa878" stroke="#8a4a2a" stroke-width="0.4"/>
<rect x="774.6" y="578.7" width="88" height="3.3" fill="#dcdcdc" stroke="#888" stroke-width="0.3"/>
<rect x="862.6" y="578.7" width="120" height="3.3" fill="#bdbdbd" stroke="#888" stroke-width="0.3"/>
<rect x="982.6" y="578.7" width="144.4" height="3.3" fill="#6e6e6e" stroke="#555" stroke-width="0.3"/>
<rect x="774.6" y="582" width="352.4" height="1.4" fill="#c8a070"/>
<use href="#hexr" x="899" y="536"/>
<use href="#hexr" x="957.7" y="536"/>
<line x1="950" y1="525" x2="950" y2="690" stroke="#777" stroke-width="0.4" stroke-dasharray="10 3 1 3"/>
<use href="#lv" x="676.6" y="535"/><text class="d" x="656" y="518">+1.089</text>
<use href="#lv" x="676.6" y="581.5"/><text class="d" x="656" y="565">+0.433</text>
<use href="#lv" x="676.6" y="612.2"/><text class="d" x="656" y="595">+0.260</text>
<use href="#lv" x="676.6" y="631"/><text class="d" x="656" y="614">+0.000</text>
<use href="#lv" x="676.6" y="666"/><text class="d" x="656" y="649">-0.500</text>
<path class="dm" d="M677,535 H770 M701,535 V666 M677,581.5 H728 M677,612.2 H691 M677,631 H691 M677,666 H691"/>
<g class="tk"><line x1="699" y1="537" x2="703" y2="533"/><line x1="699" y1="583.5" x2="703" y2="579.5"/><line x1="699" y1="614.2" x2="703" y2="610.2"/><line x1="699" y1="633" x2="703" y2="629"/><line x1="699" y1="645" x2="703" y2="641"/><line x1="699" y1="668" x2="703" y2="664"/></g>
<g class="d"><text transform="translate(699,566) rotate(-90)">656</text><text transform="translate(699,604) rotate(-90)">433</text><text transform="translate(699,627) rotate(-90)">260</text><text transform="translate(699,642) rotate(-90)">200</text><text transform="translate(699,663) rotate(-90)">300</text></g>
<path class="dm" d="M1197.4,581.5 V666 M1174.8,581.5 H1205 M1174.8,598 H1205"/>
<g class="tk"><line x1="1195.4" y1="583.5" x2="1199.4" y2="579.5"/><line x1="1195.4" y1="600" x2="1199.4" y2="596"/><line x1="1195.4" y1="614.2" x2="1199.4" y2="610.2"/><line x1="1195.4" y1="633" x2="1199.4" y2="629"/><line x1="1195.4" y1="645" x2="1199.4" y2="641"/><line x1="1195.4" y1="668" x2="1199.4" y2="664"/></g>
<g class="d"><text transform="translate(1201,594) rotate(-90)">233</text><text transform="translate(1201,611) rotate(-90)">200</text><text transform="translate(1201,628) rotate(-90)">260</text><text transform="translate(1201,642) rotate(-90)">200</text><text transform="translate(1201,663) rotate(-90)">300</text></g>
<path class="dm" d="M735,685.6 H1166 M740.5,670 V689 M747,670 V689 M774.6,670 V689 M782,670 V689 M950,670 V689 M1119.5,670 V689 M1127,670 V689 M1155.5,670 V689 M1162.4,670 V689"/>
<g class="tk"><line x1="738.5" y1="687.6" x2="742.5" y2="683.6"/><line x1="745" y1="687.6" x2="749" y2="683.6"/><line x1="772.6" y1="687.6" x2="776.6" y2="683.6"/><line x1="780" y1="687.6" x2="784" y2="683.6"/><line x1="948" y1="687.6" x2="952" y2="683.6"/><line x1="1117.5" y1="687.6" x2="1121.5" y2="683.6"/><line x1="1125" y1="687.6" x2="1129" y2="683.6"/><line x1="1153.5" y1="687.6" x2="1157.5" y2="683.6"/><line x1="1160.4" y1="687.6" x2="1164.4" y2="683.6"/></g>
<g class="d"><text x="738" y="680">100</text><text x="755" y="680">400</text><text x="773" y="680">100</text><text x="860" y="680">2400</text><text x="1029" y="680">2400</text><text x="1118" y="680">100</text><text x="1136" y="680">400</text><text x="1154" y="680">100</text></g>
</svg>
</body></html>
